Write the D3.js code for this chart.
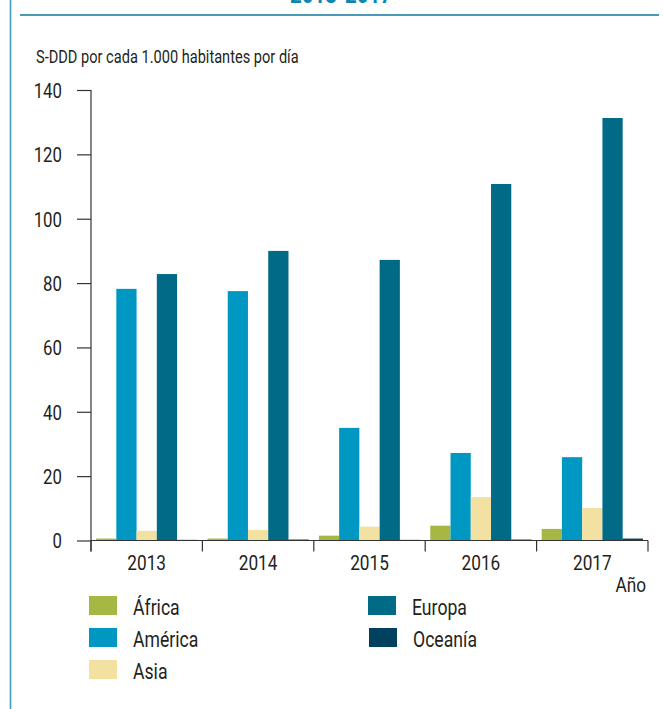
<!DOCTYPE html>
<html>
<head>
<meta charset="utf-8">
<script src="https://cdn.jsdelivr.net/npm/d3@7"></script>
<style>
  html, body { margin: 0; padding: 0; background: #fff; }
  svg { display: block; }
  text { font-family: Roboto, "Liberation Sans", sans-serif; fill: #231f20; }
</style>
</head>
<body>
<svg id="chart" width="663" height="709"></svg>
<script>
// Consumo de S-DDD por región y año
const years = ["2013", "2014", "2015", "2016", "2017"];
const regions = ["África", "América", "Asia", "Europa", "Oceanía"];
const africa  = [0.6, 0.6, 1.5, 4.6, 3.6];
const america = [78.2, 77.5, 35.0, 27.2, 25.9];
const asia    = [3.0, 3.3, 4.3, 13.5, 10.1];
const europa  = [82.8, 90.0, 87.2, 110.8, 131.3];
const oceania = [0.2, 0.3, 0.2, 0.3, 0.6];
const yTicks  = [0, 20, 40, 60, 80, 100, 120, 140];
const colors  = ["#a6b744", "#0098c3", "#f3e1a2", "#006a87", "#00415f"];
const seriesValues = [africa, america, asia, europa, oceania];

// tipografía estrecha: se comprime horizontalmente la fuente
const SX = 0.82;

const svg = d3.select("#chart");

// texto comprimido anclado en (x, y)
function label(parent, x, y, str, size, anchor) {
  return parent.append("text")
    .attr("transform", `translate(${x},${y}) scale(${SX},1)`)
    .attr("text-anchor", anchor || "start")
    .style("font-size", size + "px")
    .text(str);
}

// marco de la figura
svg.append("line").attr("x1", 10.5).attr("x2", 10.5).attr("y1", 0).attr("y2", 709)
  .attr("stroke", "#3d9cc6").attr("stroke-width", 1.6);
svg.append("line").attr("x1", 20).attr("x2", 659).attr("y1", 15).attr("y2", 15)
  .attr("stroke", "#4a9ab5").attr("stroke-width", 2);
label(svg, 341, 3, "2013-2017", 25, "middle")
  .style("font-weight", "bold").style("fill", "#0b86b0");

const plotLeft = 91, plotRight = 648, plotTop = 90, plotBase = 540.5;

const x0 = d3.scaleBand().domain(years).range([plotLeft, plotRight]).padding(0);
const x1 = d3.scaleBand().domain(regions).range([0, x0.bandwidth()]).paddingInner(0).paddingOuter(0.25);
const y = d3.scaleLinear().domain([0, 140]).range([plotBase, plotTop]);

// barras
const groups = svg.append("g").selectAll("g").data(years).join("g")
  .attr("transform", d => `translate(${x0(d)},0)`);
groups.selectAll("rect")
  .data((yr, i) => regions.map((r, k) => ({ region: r, value: seriesValues[k][i], color: colors[k] })))
  .join("rect")
  .attr("x", d => x1(d.region))
  .attr("width", x1.bandwidth())
  .attr("y", d => y(d.value))
  .attr("height", d => plotBase - y(d.value))
  .attr("fill", d => d.color);

// eje Y
const yAxis = svg.append("g").attr("transform", `translate(${plotLeft},0)`)
  .call(d3.axisLeft(y).tickValues(yTicks).tickSize(14).tickSizeOuter(0).tickPadding(15));
yAxis.select(".domain").remove();
yAxis.selectAll(".tick line").attr("stroke", "#333").attr("stroke-width", 1.2);
yAxis.selectAll(".tick text")
  .attr("x", null).attr("dy", "0.36em")
  .attr("transform", `translate(-29,0) scale(${SX},1)`)
  .style("font-size", "20.5px");
svg.append("line").attr("x1", plotLeft).attr("x2", plotLeft).attr("y1", plotTop).attr("y2", plotBase + 11)
  .attr("stroke", "#333").attr("stroke-width", 1.2);

// eje X
svg.append("line").attr("x1", plotLeft).attr("x2", plotRight).attr("y1", plotBase).attr("y2", plotBase)
  .attr("stroke", "#333").attr("stroke-width", 1.2);
const xAxis = svg.append("g").attr("transform", `translate(0,${plotBase})`)
  .call(d3.axisBottom(x0).tickSize(0).tickPadding(15));
xAxis.select(".domain").remove();
xAxis.selectAll(".tick text")
  .attr("transform", `scale(${SX},1)`)
  .attr("dy", "0.71em")
  .style("font-size", "21px");
const bounds = years.map(d => x0(d)).concat([plotRight]);
svg.append("g").selectAll("line").data(bounds).join("line")
  .attr("x1", d => d).attr("x2", d => d).attr("y1", plotBase).attr("y2", plotBase + 11)
  .attr("stroke", "#333").attr("stroke-width", 1.2);

// títulos de ejes
label(svg, 36, 63, "S-DDD por cada 1.000 habitantes por día", 17.8);
label(svg, 646, 592, "Año", 21, "end");

// leyenda
const legendPos = [[89, 596], [89, 628], [89, 660], [368, 596], [369, 628]];
const legend = svg.append("g").selectAll("g").data(regions).join("g")
  .attr("transform", (d, i) => `translate(${legendPos[i][0]},${legendPos[i][1]})`);
legend.append("rect").attr("width", 28).attr("height", 19).attr("fill", (d, i) => colors[i]);
legend.each(function (d) { label(d3.select(this), 44, 18.5, d, 21.5); });
</script>
</body>
</html>
